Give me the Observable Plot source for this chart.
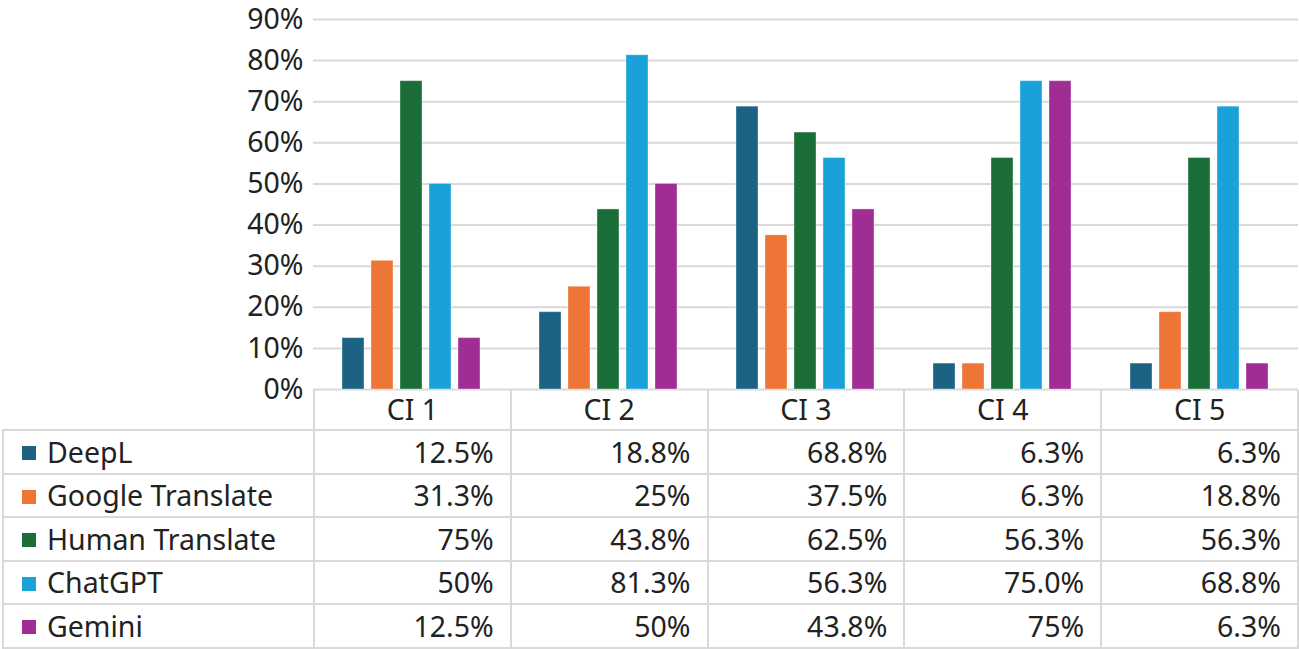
<!DOCTYPE html>
<html><head><meta charset="utf-8">
<script src="https://cdn.jsdelivr.net/npm/d3@7"></script>
<script src="https://cdn.jsdelivr.net/npm/@observablehq/plot@0.6"></script>
<style>
html,body{margin:0;padding:0;background:#fff;}
body{font-family:"Noto Sans",sans-serif;color:#222;width:1299px;height:649px;overflow:hidden;}
#chart{position:relative;z-index:2;height:390px;}
#chart svg{display:block;overflow:visible;background:transparent !important;}
#table{position:relative;z-index:1;}
table{border-collapse:collapse;table-layout:fixed;margin-left:2px;font-size:28.5px;line-height:1;}
td{border:2px solid #d9d9d9;padding:0 16px 0 0;text-align:right;white-space:nowrap;box-sizing:border-box;}
tr.head td{text-align:center;padding:0;border-top:none;height:40px;}
tr.head td.blank{border:none;border-bottom:2px solid #d9d9d9;}
tr.row td{height:43.6px;}
td.name{text-align:left;padding-left:18px;}
.sw{display:inline-block;width:14px;height:14px;margin-right:11px;vertical-align:middle;position:relative;top:-2px;}
</style>
</head><body>
<div id="chart"></div>
<div id="table"></div>
<script>
const categories = ["CI 1", "CI 2", "CI 3", "CI 4", "CI 5"];
const series = ["DeepL", "Google Translate", "Human Translate", "ChatGPT", "Gemini"];
const colors = ["#1b6283", "#ed7535", "#1b6e38", "#1ba1d9", "#a02d93"];
const yTicks = [0, 10, 20, 30, 40, 50, 60, 70, 80, 90];

const deepl   = [12.5, 18.8, 68.8, 6.3, 6.3];
const google  = [31.3, 25, 37.5, 6.3, 18.8];
const human   = [75, 43.8, 62.5, 56.3, 56.3];
const chatgpt = [50, 81.3, 56.3, 75.0, 68.8];
const gemini  = [12.5, 50, 43.8, 75, 6.3];

const deeplLabels   = ["12.5%", "18.8%", "68.8%", "6.3%", "6.3%"];
const googleLabels  = ["31.3%", "25%", "37.5%", "6.3%", "18.8%"];
const humanLabels   = ["75%", "43.8%", "62.5%", "56.3%", "56.3%"];
const chatgptLabels = ["50%", "81.3%", "56.3%", "75.0%", "68.8%"];
const geminiLabels  = ["12.5%", "50%", "43.8%", "75%", "6.3%"];

const seriesValues = [deepl, google, human, chatgpt, gemini];
const seriesLabels = [deeplLabels, googleLabels, humanLabels, chatgptLabels, geminiLabels];

const data = [];
series.forEach((s, i) => categories.forEach((c, j) => data.push({series: s, ci: c, value: seriesValues[i][j]})));

const chart = Plot.plot({
  width: 1299,
  height: 390,
  marginLeft: 313,
  marginRight: 1,
  marginTop: 19,
  marginBottom: 1,
  style: {fontFamily: "Noto Sans", fontSize: "28.5px", color: "#222", background: "transparent", overflow: "visible"},
  fx: {domain: categories, padding: 0, axis: null},
  x: {domain: series, paddingInner: 0.233, paddingOuter: 0.9, axis: null},
  y: {domain: [0, 90], ticks: yTicks, tickFormat: d => d + "%", tickSize: 0, tickPadding: 10, label: null},
  color: {domain: series, range: colors},
  marks: [
    Plot.ruleY(yTicks, {stroke: "#d9d9d9", strokeWidth: 2}),
    Plot.barY(data, {fx: "ci", x: "series", y: "value", fill: "series", stroke: "#ffffff", strokeOpacity: 0.35, strokeWidth: 1})
  ]
});
document.getElementById("chart").append(chart);

const table = d3.select("#table").append("table");
const cg = table.append("colgroup");
cg.append("col").style("width", "311px");
categories.forEach(() => cg.append("col").style("width", "197px"));
const head = table.append("tr").attr("class", "head");
head.append("td").attr("class", "blank");
categories.forEach(c => head.append("td").text(c));
series.forEach((s, i) => {
  const tr = table.append("tr").attr("class", "row");
  const nm = tr.append("td").attr("class", "name");
  nm.append("span").attr("class", "sw").style("background", colors[i]);
  nm.append("span").text(s);
  seriesLabels[i].forEach(l => tr.append("td").text(l));
});
</script>
</body></html>
